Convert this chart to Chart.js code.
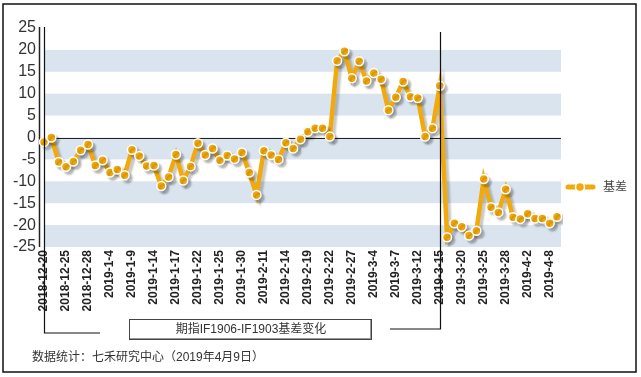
<!DOCTYPE html>
<html>
<head>
  <title>期指IF1906-IF1903基差变化</title>
  <script src="https://cdn.jsdelivr.net/npm/chart.js"></script>
  <style>
    html, body { margin: 0; padding: 0; background: #fff; }
    #wrap { position: relative; width: 641px; height: 377px; }
  </style>
</head>
<body>
  <div id="wrap"><canvas id="basisChart" width="641" height="377"></canvas></div>

  <script>
    // trading days, 2018-12-20 .. 2019-4-9
    const dates = [
      '2018-12-20','2018-12-21','2018-12-24','2018-12-25','2018-12-26','2018-12-27','2018-12-28',
      '2019-1-2','2019-1-3','2019-1-4','2019-1-7','2019-1-8','2019-1-9','2019-1-10','2019-1-11',
      '2019-1-14','2019-1-15','2019-1-16','2019-1-17','2019-1-18','2019-1-21','2019-1-22','2019-1-23',
      '2019-1-24','2019-1-25','2019-1-28','2019-1-29','2019-1-30','2019-1-31','2019-2-1',
      '2019-2-11','2019-2-12','2019-2-13','2019-2-14','2019-2-15','2019-2-18','2019-2-19','2019-2-20',
      '2019-2-21','2019-2-22','2019-2-25','2019-2-26','2019-2-27','2019-2-28','2019-3-1',
      '2019-3-4','2019-3-5','2019-3-6','2019-3-7','2019-3-8','2019-3-11','2019-3-12','2019-3-13',
      '2019-3-14','2019-3-15','2019-3-18','2019-3-19','2019-3-20','2019-3-21','2019-3-22',
      '2019-3-25','2019-3-26','2019-3-27','2019-3-28','2019-3-29','2019-4-1','2019-4-2','2019-4-3',
      '2019-4-4','2019-4-8','2019-4-9'
    ];
    const basis = [
      -1, 0, -5.6, -6.7, -5.5, -2.9, -1.6,
      -6.4, -5.2, -8, -7.3, -8.6, -2.8, -4.2, -6.5,
      -6.4, -11.1, -9, -3.9, -9.8, -6.6, -1.3, -4,
      -2.5, -5.2, -4.1, -4.9, -3.4, -8, -13.1,
      -3, -4, -5, -1.2, -2.5, -0.4, 1.3, 2.1,
      2.1, 0.2, 17.5, 19.7, 13.5, 17.4, 12.9,
      14.7, 13.3, 6.2, 9.2, 12.8, 9.3, 9.0, 0.2,
      2.1, 11.8, -22.8, -19.6, -20.4, -22.4, -21.3,
      -9.5, -15.9, -17.1, -11.8, -18.2, -18.6, -17.4, -18.5,
      -18.5, -19.6, -18.1
    ];
    const yTicks = [-25, -20, -15, -10, -5, 0, 5, 10, 15, 20, 25];
    const bands = [[15, 20], [5, 10], [-5, 0], [-15, -10], [-25, -20]];
    const seriesName = '基差';
    const chartTitle = '期指IF1906-IF1903基差变化';
    const sourceNote = '数据统计：七禾研究中心（2019年4月9日）';
    const markDate = '2019-3-15';

    const ORANGE = '#f2a90c';
    const FONT = "'Liberation Sans', Arial, 'Noto Sans CJK SC', sans-serif";

    const decorations = {
      id: 'decorations',
      beforeDatasetsDraw(chart) {
        const { ctx, chartArea: a, scales: { y } } = chart;
        ctx.save();
        ctx.fillStyle = '#dae4ef';
        bands.forEach(([lo, hi]) => {
          const top = y.getPixelForValue(hi), bot = y.getPixelForValue(lo);
          ctx.fillRect(a.left, top, a.right + 4 - a.left, bot - top);
        });
        // zero line
        ctx.strokeStyle = '#222';
        ctx.lineWidth = 1;
        const z = Math.round(y.getPixelForValue(0)) + 0.5;
        ctx.beginPath();
        ctx.moveTo(a.left, z); ctx.lineTo(a.right + 4, z);
        ctx.stroke();
        // y axis line
        ctx.lineWidth = 1.5;
        ctx.beginPath();
        ctx.moveTo(a.left - 4.5, y.getPixelForValue(25) - 1);
        ctx.lineTo(a.left - 4.5, y.getPixelForValue(-25));
        ctx.stroke();
        ctx.restore();

        // shadow for the series
        ctx.save();
        ctx.shadowColor = 'rgba(0,0,0,0.22)';
        ctx.shadowOffsetX = 3;
        ctx.shadowOffsetY = 3;
        ctx.shadowBlur = 2;
      },
      afterDatasetsDraw(chart) {
        const { ctx, chartArea: a, scales: { x, y } } = chart;
        ctx.restore();
        ctx.save();
        ctx.strokeStyle = '#111';
        ctx.lineWidth = 1.2;
        // left bracket
        const lx = a.left + 0.5;
        ctx.beginPath();
        ctx.moveTo(lx, y.getPixelForValue(25) - 1);
        ctx.lineTo(lx, 333);
        ctx.lineTo(100, 333);
        ctx.stroke();
        // right bracket at the marked date
        const mx = Math.round(x.getPixelForValue(dates.indexOf(markDate))) + 0.5;
        ctx.beginPath();
        ctx.moveTo(mx, 32);
        ctx.lineTo(mx, 329);
        ctx.lineTo(390, 329);
        ctx.stroke();

        // title box
        ctx.fillStyle = '#fff';
        ctx.fillRect(129, 319, 242, 20);
        ctx.strokeStyle = '#444';
        ctx.lineWidth = 1;
        ctx.strokeRect(129.5, 319.5, 242, 20);
        ctx.strokeStyle = '#999';
        ctx.beginPath();
        ctx.moveTo(130, 338.5); ctx.lineTo(371, 338.5);
        ctx.moveTo(370.5, 320); ctx.lineTo(370.5, 339);
        ctx.stroke();
        ctx.fillStyle = '#333';
        ctx.font = '12px ' + FONT;
        ctx.textAlign = 'center';
        ctx.textBaseline = 'middle';
        ctx.fillText(chartTitle, 251, 330);

        // legend
        const ly = 187;
        ctx.strokeStyle = ORANGE;
        ctx.lineWidth = 5;
        ctx.lineCap = 'round';
        ctx.beginPath();
        ctx.moveTo(568, ly); ctx.lineTo(593, ly);
        ctx.stroke();
        ctx.beginPath();
        ctx.arc(580, ly, 4.5, 0, Math.PI * 2);
        ctx.fillStyle = ORANGE;
        ctx.fill();
        ctx.lineWidth = 1.5;
        ctx.strokeStyle = '#fff';
        ctx.stroke();
        ctx.fillStyle = '#444';
        ctx.textAlign = 'left';
        ctx.fillText(seriesName, 603, ly + 1);

        // source note
        ctx.fillStyle = '#333';
        ctx.font = '12px ' + FONT;
        ctx.fillText(sourceNote, 32, 358);

        // outer frame
        ctx.strokeStyle = '#111';
        ctx.lineWidth = 1.5;
        ctx.strokeRect(3, 4, 633, 368);
        ctx.restore();
      }
    };

    new Chart(document.getElementById('basisChart'), {
      type: 'line',
      data: {
        labels: dates,
        datasets: [{
          label: seriesName,
          data: basis,
          borderColor: ORANGE,
          borderWidth: 4.5,
          backgroundColor: ORANGE,
          pointBackgroundColor: ORANGE,
          pointBorderColor: '#fff',
          pointBorderWidth: 1.5,
          pointRadius: 4.5,
          tension: 0,
          fill: false
        }]
      },
      options: {
        responsive: false,
        animation: false,
        layout: { padding: { left: 0, top: 28, right: 84, bottom: 60 } },
        plugins: {
          legend: { display: false },
          title: { display: false },
          tooltip: { enabled: false }
        },
        scales: {
          x: {
            offset: false,
            grid: { display: false, drawTicks: false },
            border: { display: false },
            afterFit(s) { s.height = 70; },
            ticks: {
              autoSkip: false,
              minRotation: 90,
              maxRotation: 90,
              padding: 3,
              color: '#222',
              font: { family: FONT, size: 12, weight: 'bold' },
              callback(v, i) { return i % 3 === 0 ? dates[i] : ''; }
            }
          },
          y: {
            min: -25,
            max: 25,
            afterFit(s) { s.width = 44; },
            afterBuildTicks(s) { s.ticks = yTicks.map(v => ({ value: v })); },
            grid: { display: false, drawTicks: false },
            border: { display: false },
            ticks: {
              autoSkip: false,
              padding: 8,
              color: '#333',
              font: { family: FONT, size: 16 }
            }
          }
        }
      },
      plugins: [decorations]
    });
  </script>
</body>
</html>
